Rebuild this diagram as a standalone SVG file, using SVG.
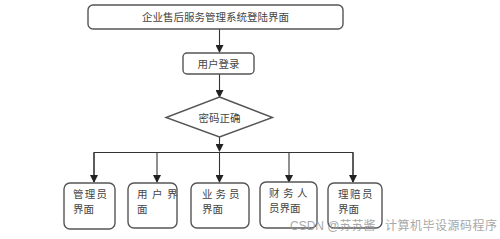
<svg xmlns="http://www.w3.org/2000/svg" width="500" height="239" viewBox="0 0 500 239">
<style>
.box{fill:#fff;stroke:#555;stroke-width:1.4}
.t{font-family:"Noto Sans CJK SC","Noto Sans",sans-serif;font-size:10.5px;fill:#444}
.c{text-anchor:middle}
.ln{fill:none;stroke:#333;stroke-width:1.1}
.wm{font-family:"Liberation Sans","Noto Sans CJK SC",sans-serif;font-size:12px;fill:#999}
</style>
<defs>
<marker id="ah" markerWidth="8" markerHeight="8" refX="7" refY="4" orient="auto" markerUnits="userSpaceOnUse">
<path d="M0,0 L8,4 L0,8 Z" fill="#222"/>
</marker>
</defs>
<rect width="500" height="239" fill="#fff"/>
<g id="connectors">
<line class="ln" x1="219.5" y1="29" x2="219.5" y2="52" marker-end="url(#ah)"/>
<line class="ln" x1="219.5" y1="74" x2="219.5" y2="97" marker-end="url(#ah)"/>
<line class="ln" x1="219.5" y1="137" x2="219.5" y2="151" marker-end="url(#ah)"/>
<polyline class="ln" points="94,182 94,152.5 353,152.5 353,182"/>
<line class="ln" x1="94" y1="152.5" x2="94" y2="182" marker-end="url(#ah)"/>
<line class="ln" x1="157" y1="152.5" x2="157" y2="182" marker-end="url(#ah)"/>
<line class="ln" x1="219.5" y1="152.5" x2="219.5" y2="182" marker-end="url(#ah)"/>
<line class="ln" x1="289" y1="152.5" x2="289" y2="182" marker-end="url(#ah)"/>
<line class="ln" x1="353" y1="152.5" x2="353" y2="182" marker-end="url(#ah)"/>
</g>
<g id="title">
<rect class="box" x="88" y="5" width="255" height="24" rx="5"/>
<text class="t c" x="215.5" y="21">企业售后服务管理系统登陆界面</text>
</g>
<g id="login">
<rect class="box" x="183" y="53" width="71" height="21" rx="4"/>
<text class="t c" x="218.5" y="67.5">用户登录</text>
</g>
<g id="check">
<polygon class="box" points="219.5,97 272.5,117.5 219.5,137 166,117.5"/>
<text class="t c" x="219.5" y="121.5">密码正确</text>
</g>
<g id="admin">
<rect class="box" x="64" y="183" width="51" height="46" rx="6"/>
<text class="t" x="73" y="198" letter-spacing="1.2">管理员</text>
<text class="t" x="73" y="213">界面</text>
</g>
<g id="user">
<rect class="box" x="128" y="183" width="49" height="45" rx="6"/>
<text class="t" x="137" y="198" letter-spacing="4.5">用户界</text>
<text class="t" x="137" y="213">面</text>
</g>
<g id="business">
<rect class="box" x="191" y="183" width="58" height="45" rx="6"/>
<text class="t" x="202" y="198" letter-spacing="3">业务员</text>
<text class="t" x="202" y="213">界面</text>
</g>
<g id="finance">
<rect class="box" x="260" y="182" width="57" height="46" rx="6"/>
<text class="t" x="269" y="197" letter-spacing="3.5">财务人</text>
<text class="t" x="269" y="212">员界面</text>
</g>
<g id="claims">
<rect class="box" x="328" y="183" width="54" height="45" rx="6"/>
<text class="t" x="338" y="198" letter-spacing="1.5">理赔员</text>
<text class="t" x="338" y="213">界面</text>
</g>
<g id="watermark" opacity="0.85">
<text class="wm" x="290" y="229.5">CSDN @苏苏酱</text>
<text class="wm" x="385" y="229.5" letter-spacing="0.5">计算机毕设源码程序</text>
</g>
</svg>
